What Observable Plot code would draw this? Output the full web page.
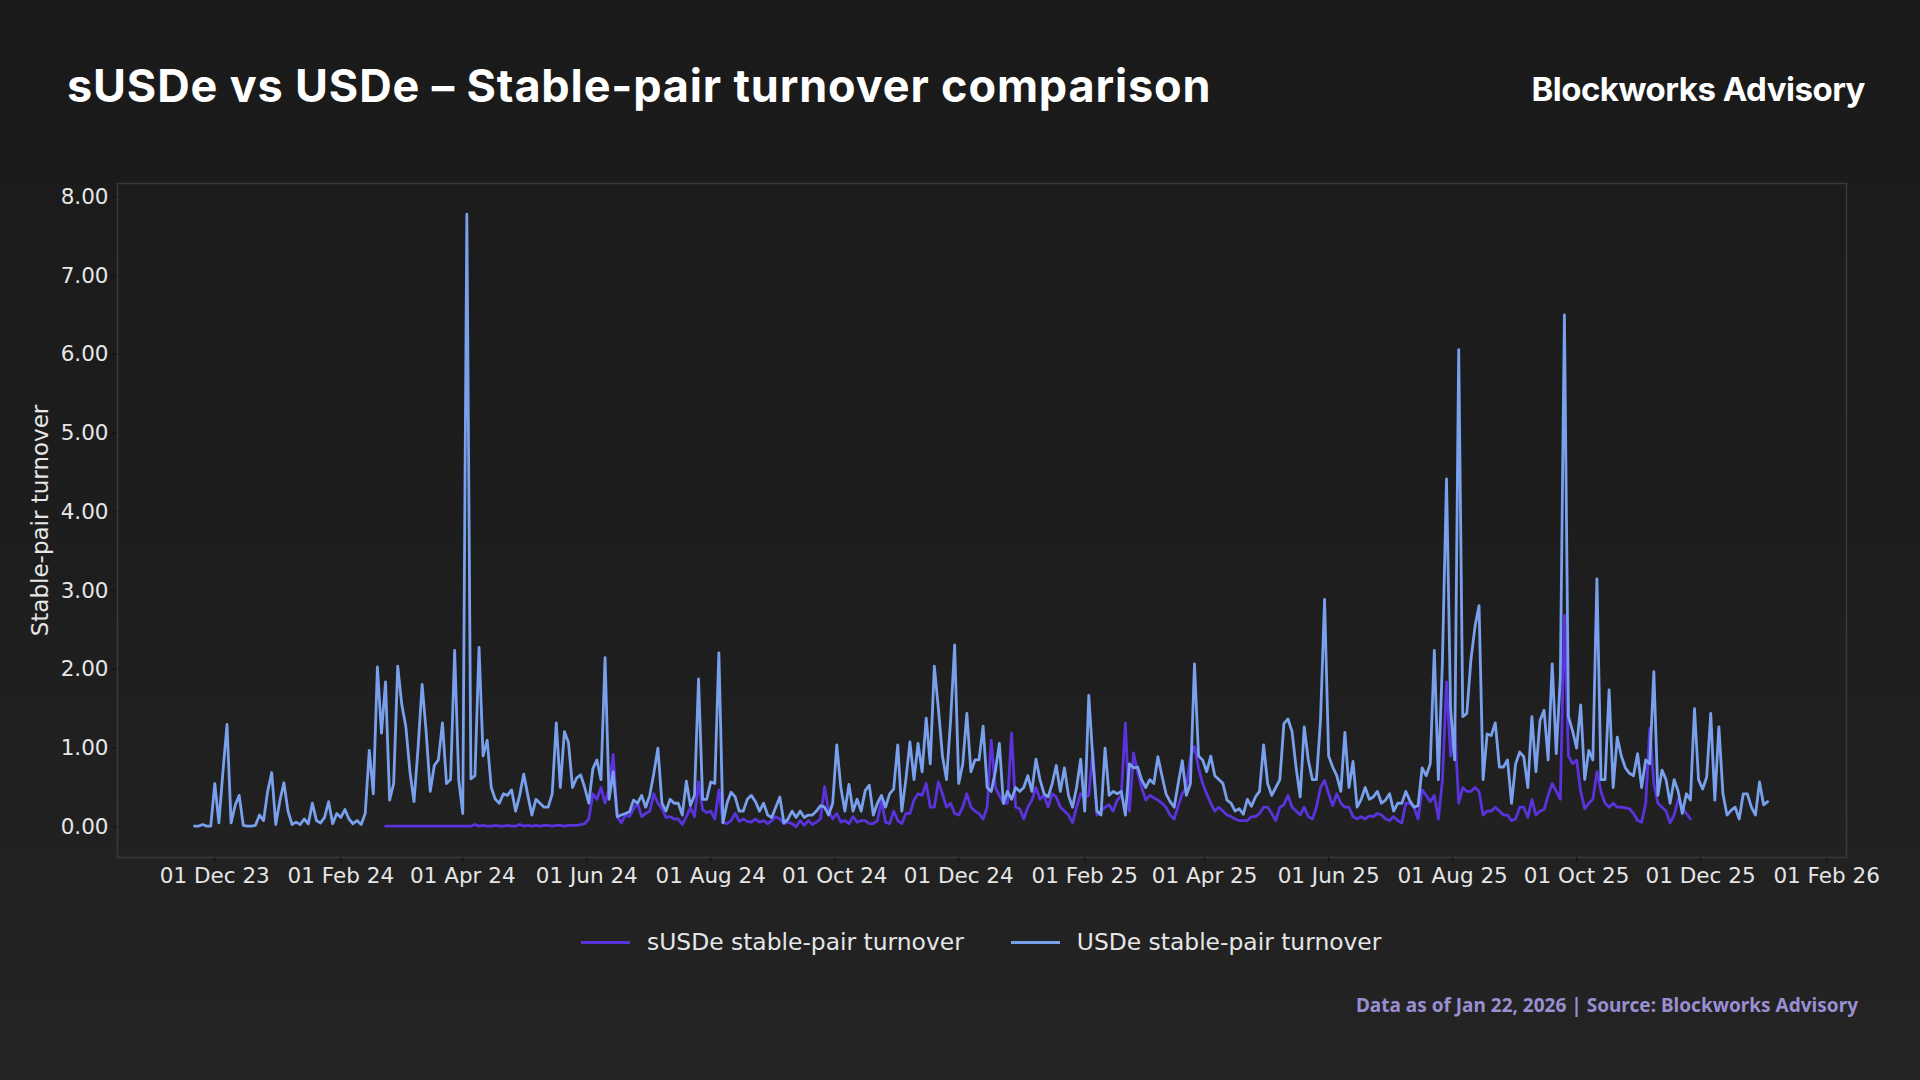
<!DOCTYPE html>
<html>
<head>
<meta charset="utf-8">
<script src="https://cdn.jsdelivr.net/npm/d3@7"></script>
<script src="https://cdn.jsdelivr.net/npm/@observablehq/plot@0.6"></script>
<style>
  html, body { margin: 0; padding: 0; background: #1b1b1b; }
  #page { position: relative; width: 1920px; height: 1080px; overflow: hidden;
          background: linear-gradient(180deg, #1a1a1a 0%, #1d1d1d 50%, #242424 100%); }
  #title { position: absolute; left: 67px; top: 59px; font-family: Inter, "Noto Sans", sans-serif;
           font-weight: 700; font-size: 45px; line-height: 54px; color: #ffffff; white-space: nowrap; letter-spacing: 0.85px; }
  #brand { position: absolute; right: 55px; top: 69px; font-family: Inter, "Noto Sans", sans-serif;
           font-weight: 700; font-size: 33px; line-height: 40px; color: #ffffff; white-space: nowrap; letter-spacing: -0.5px; }
  #chart { position: absolute; left: 0; top: 150px; }
  #legend { position: absolute; left: 581px; top: 929px; display: flex; align-items: center;
            font-family: "DejaVu Sans", sans-serif; font-size: 23.4px; line-height: 27px; color: #e6e6e6; white-space: nowrap; }
  .item { display: flex; align-items: center; margin-right: 47px; }
  .sw { width: 49px; height: 3px; margin-right: 17px; }
  #footer { position: absolute; right: 62px; top: 992px; font-family: "Noto Sans", sans-serif; font-weight: 700;
            font-size: 19px; color: #9a8fd2; white-space: nowrap; }
</style>
</head>
<body>
<div id="page">
  <div id="title"></div>
  <div id="brand"></div>
  <div id="chart"></div>
  <div id="legend"></div>
  <div id="footer"></div>
</div>
<script>
// ---------------- data ----------------
const titleText = "sUSDe vs USDe – Stable-pair turnover comparison";
const brandText = "Blockworks Advisory";
const footerText = "Data as of Jan 22, 2026 | Source: Blockworks Advisory";
const yAxisLabel = "Stable-pair turnover";
const seriesNames = ["sUSDe stable-pair turnover", "USDe stable-pair turnover"];
const stepDays = 2;

const usdeStart = "2023-11-21";
const usdeValues = [
  0.01,0.01,0.03,0.01,0.01,0.55,0.05,0.7,1.30,0.05,
  0.27,0.4,0.02,0.01,0.01,0.02,0.15,0.08,0.45,0.69,
  0.03,0.33,0.56,0.2,0.03,0.06,0.03,0.1,0.04,0.3,
  0.08,0.05,0.12,0.32,0.04,0.17,0.12,0.22,0.1,0.04,
  0.08,0.03,0.17,0.97,0.42,2.03,1.19,1.84,0.34,0.55,
  2.04,1.55,1.27,0.7,0.32,1.0,1.81,1.2,0.45,0.78,
  0.85,1.32,0.55,0.6,2.24,0.6,0.17,7.78,0.61,0.65,
  2.28,0.9,1.1,0.5,0.35,0.3,0.42,0.4,0.47,0.2,
  0.4,0.67,0.4,0.15,0.35,0.3,0.25,0.25,0.42,1.32,
  0.5,1.21,1.07,0.5,0.62,0.66,0.5,0.3,0.74,0.85,
  0.6,2.15,0.35,0.7,0.13,0.15,0.17,0.19,0.34,0.3,
  0.4,0.25,0.4,0.68,1.0,0.3,0.2,0.35,0.3,0.3,
  0.15,0.58,0.27,0.4,1.88,0.35,0.35,0.57,0.55,2.21,
  0.05,0.3,0.44,0.38,0.2,0.2,0.35,0.4,0.32,0.2,
  0.3,0.15,0.12,0.25,0.38,0.05,0.1,0.2,0.12,0.2,
  0.12,0.15,0.15,0.2,0.27,0.25,0.15,0.3,1.04,0.5,
  0.2,0.54,0.2,0.35,0.2,0.46,0.53,0.15,0.3,0.4,
  0.25,0.42,0.48,1.04,0.2,0.6,1.08,0.6,1.06,0.7,
  1.38,0.8,2.04,1.5,0.9,0.6,1.35,2.31,0.55,0.8,
  1.44,0.7,0.85,0.85,1.28,0.5,0.45,0.7,1.06,
  0.3,0.45,0.35,0.5,0.45,0.5,0.65,0.45,0.86,0.6,
  0.42,0.38,0.55,0.78,0.45,0.75,0.4,0.25,0.5,0.86,
  0.2,1.67,0.85,0.2,0.15,1.0,0.4,0.45,0.42,0.45,
  0.15,0.8,0.75,0.76,0.6,0.5,0.6,0.55,0.89,0.65,
  0.42,0.32,0.25,0.55,0.84,0.4,0.55,2.07,0.9,0.85,
  0.7,0.9,0.65,0.6,0.55,0.34,0.3,0.2,0.23,0.16,
  0.35,0.26,0.38,0.45,1.04,0.55,0.4,0.5,0.6,1.31,
  1.37,1.21,0.75,0.38,1.27,0.85,0.6,0.6,1.35,2.89,
  0.9,0.76,0.65,0.45,1.2,0.5,0.83,0.25,0.35,0.5,
  0.35,0.38,0.45,0.3,0.34,0.42,0.2,0.3,
  0.3,0.45,0.33,0.25,0.27,0.75,0.65,0.8,2.24,0.6,
  2.12,4.42,1.5,0.85,6.06,1.4,1.44,2.12,2.54,2.81,
  0.6,1.18,1.16,1.32,0.76,0.76,0.85,0.3,0.8,0.95,
  0.89,0.5,1.4,0.7,1.35,1.48,0.85,2.07,0.93,1.9,
  6.5,1.4,1.22,1.0,1.55,0.6,0.97,0.85,3.15,0.6,
  0.6,1.74,0.5,1.14,0.9,0.75,0.68,0.65,0.93,0.5,
  0.85,0.8,1.97,0.4,0.72,0.6,0.3,0.6,0.45,0.17,
  0.42,0.34,1.5,0.6,0.48,0.63,1.44,0.34,1.27,0.42,
  0.15,0.21,0.25,0.1,0.42,0.42,0.25,0.15,0.57,0.28,
  0.32
];

const susdeStart = "2024-02-23";
const susdeValues = [
  0.01,0.01,0.01,0.01,0.01,0.01,0.01,0.01,0.01,0.01,0.01,
  0.01,0.01,0.01,0.01,0.01,0.01,0.01,0.01,0.01,0.01,0.01,
  0.03,
  0.01,0.02,0.01,0.01,0.02,0.01,0.01,0.02,0.01,0.01,
  0.03,
  0.01,0.02,0.01,0.02,0.01,0.02,0.02,0.01,0.02,0.02,0.01,0.02,0.02,
  0.02,0.03,0.04,0.1,0.42,0.35,
  0.5,0.3,0.5,0.92,0.13,0.05,0.15,0.13,0.23,0.3,
  0.13,0.17,0.2,0.42,0.3,0.23,0.12,0.13,0.1,0.1,
  0.03,0.13,0.25,0.13,0.57,0.22,0.18,0.2,0.1,0.47,
  0.06,0.04,0.08,0.17,0.07,0.1,0.07,0.06,0.1,0.06,
  0.08,0.04,0.08,0.13,0.1,0.04,0.06,0.04,0.0,0.08,
  0.02,0.08,0.03,0.06,0.1,0.51,0.2,0.1,0.17,0.06,
  0.08,0.04,0.13,0.06,0.08,0.08,0.04,0.04,0.08,0.33,
  0.06,0.04,0.2,0.08,0.04,0.17,0.17,0.34,0.42,0.4,
  0.55,0.25,0.25,0.57,0.42,0.25,0.3,0.17,0.15,0.25,
  0.42,0.25,0.2,0.17,0.1,0.25,1.1,0.5,0.4,
  0.3,0.3,1.19,0.25,0.23,0.1,0.25,0.34,0.5,0.35,
  0.4,0.25,0.42,0.38,0.25,0.2,0.15,0.05,0.25,0.42,
  0.38,0.4,0.97,0.15,0.2,0.25,0.28,0.2,0.34,0.4,
  1.32,0.2,0.94,0.7,0.5,0.34,0.4,0.37,0.34,0.3,
  0.25,0.15,0.1,0.27,0.42,0.5,0.89,1.02,0.75,0.55,
  0.42,0.3,0.2,0.25,0.2,0.15,0.13,0.1,0.08,0.08,
  0.08,0.13,0.13,0.17,0.25,0.25,0.17,0.08,0.25,0.28,
  0.4,0.25,0.2,0.15,0.25,0.13,0.1,0.25,0.5,0.59,
  0.42,0.27,0.42,0.3,0.25,0.25,0.13,0.1,0.13,0.1,
  0.14,0.13,0.17,0.15,0.1,0.08,0.13,0.08,
  0.05,0.3,0.3,0.25,0.1,0.47,0.4,0.32,0.4,0.1,
  0.6,1.84,0.9,1.27,0.3,0.5,0.45,0.45,0.5,0.45,
  0.15,0.2,0.2,0.25,0.2,0.15,0.15,0.08,0.1,0.25,
  0.25,0.12,0.35,0.15,0.2,0.22,0.4,0.55,0.45,0.35,
  2.69,0.9,0.8,0.85,0.45,0.23,0.3,0.35,0.7,0.45,
  0.3,0.25,0.3,0.25,0.25,0.24,0.23,0.17,0.08,0.06,
  0.3,1.25,0.55,0.3,0.25,0.2,0.05,0.15,0.35,0.25,
  0.17,0.1
];

const xTickLabels = ["2023-12-01","2024-02-01","2024-04-01","2024-06-01","2024-08-01","2024-10-01",
  "2024-12-01","2025-02-01","2025-04-01","2025-06-01","2025-08-01","2025-10-01","2025-12-01","2026-02-01"];
const yTicks = [0, 1, 2, 3, 4, 5, 6, 7, 8];
const xDomain = ["2023-10-14T03:00:00Z", "2026-02-10T19:00:00Z"];
const yDomain = [-0.389, 8.17];

// ---------------- styles ----------------
const colors = { susde: "#5a33dd", usde: "#79a0ec", text: "#e6e6e6", frame: "#3a3a3a", tick: "#111111" };

// ---------------- build ----------------
const toSeries = (start, values) => {
  const s = new Date(start + "T00:00:00Z");
  return values.map((v, i) => ({ date: d3.utcDay.offset(s, i * stepDays), value: v }));
};
const usde = toSeries(usdeStart, usdeValues);
const susde = toSeries(susdeStart, susdeValues);

document.getElementById("title").textContent = titleText;
document.getElementById("brand").textContent = brandText;
document.getElementById("footer").textContent = footerText;

const legend = document.getElementById("legend");
[[seriesNames[0], colors.susde], [seriesNames[1], colors.usde]].forEach(([name, c]) => {
  const it = document.createElement("div"); it.className = "item";
  const sw = document.createElement("div"); sw.className = "sw"; sw.style.background = c;
  const tx = document.createElement("span"); tx.textContent = name;
  it.appendChild(sw); it.appendChild(tx); legend.appendChild(it);
});

const chart = Plot.plot({
  width: 1920,
  height: 750,
  marginLeft: 117,
  marginRight: 74,
  marginTop: 33,
  marginBottom: 43,
  style: { background: "transparent", color: colors.text, fontFamily: "'DejaVu Sans', sans-serif", fontSize: "21.5px" },
  x: { type: "utc", domain: xDomain.map(d => new Date(d)) },
  y: { domain: yDomain },
  marks: [
    Plot.frame({ stroke: colors.frame, strokeWidth: 1.5 }),
    Plot.axisX({ ticks: xTickLabels.map(d => new Date(d + "T00:00:00Z")), tickFormat: d3.utcFormat("%d %b %y"),
      tickSize: 5, tickPadding: 5, stroke: colors.tick, fill: colors.text, label: null, fontSize: 21.5 }),
    Plot.axisY({ ticks: yTicks, tickFormat: d3.format(".2f"), tickSize: 5, tickPadding: 4,
      stroke: colors.tick, fill: colors.text, label: null, fontSize: 21.5 }),
    Plot.lineY(susde, { x: "date", y: "value", stroke: colors.susde, strokeWidth: 2.8 }),
    Plot.lineY(usde, { x: "date", y: "value", stroke: colors.usde, strokeWidth: 2.8 }),
    Plot.text([yAxisLabel], { text: d => d, frameAnchor: "left", textAnchor: "middle", lineAnchor: "middle",
      rotate: -90, dx: -77, fontSize: 23, fill: colors.text })
  ]
});
document.getElementById("chart").appendChild(chart);
</script>
</body>
</html>
